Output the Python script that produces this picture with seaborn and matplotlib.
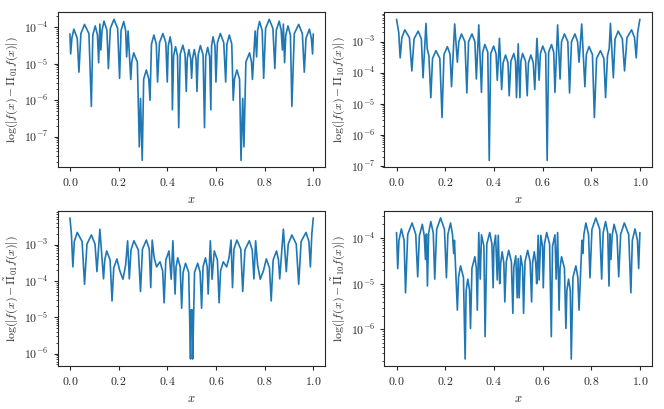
import numpy as np
import pandas as pd
import matplotlib
matplotlib.use("Agg")
import matplotlib.pyplot as plt
import seaborn as sns

# points (dips, arch shoulders, peaks): x and log10 of the error
pi01_x = [0.000, 0.003, 0.008, 0.016, 0.030, 0.037, 0.045, 0.060, 0.078, 0.088,
          0.094, 0.104, 0.113, 0.118, 0.123, 0.127, 0.132, 0.140, 0.152, 0.158,
          0.166, 0.181, 0.196, 0.204, 0.210, 0.221, 0.229, 0.233, 0.239, 0.250,
          0.254, 0.262, 0.277, 0.285, 0.290, 0.297, 0.303, 0.314, 0.324, 0.329,
          0.335, 0.345, 0.355, 0.360, 0.368, 0.382, 0.394, 0.400, 0.404, 0.412,
          0.418, 0.421, 0.426, 0.434, 0.442, 0.447, 0.453, 0.464, 0.473, 0.478,
          0.482, 0.489, 0.496, 0.500, 0.504, 0.511, 0.518, 0.522, 0.527, 0.536,
          0.547, 0.553, 0.558, 0.566, 0.574, 0.579, 0.582, 0.588, 0.596, 0.600,
          0.606, 0.618, 0.632, 0.640, 0.645, 0.655, 0.665, 0.671, 0.676, 0.686,
          0.697, 0.703, 0.710, 0.715, 0.723, 0.738, 0.746, 0.750, 0.761, 0.767,
          0.771, 0.779, 0.790, 0.796, 0.804, 0.819, 0.834, 0.842, 0.848, 0.860,
          0.868, 0.873, 0.877, 0.882, 0.887, 0.896, 0.906, 0.912, 0.922, 0.940,
          0.955, 0.963, 0.970, 0.984, 0.992, 0.997, 1.000]
pi01_log = [-4.18, -4.73, -4.30, -4.05, -4.30, -5.23, -4.17, -3.92, -4.17, -6.17,
            -4.21, -3.96, -4.21, -4.97, -3.91, -4.62, -4.08, -3.83, -4.08, -5.13,
            -4.03, -3.78, -4.03, -5.40, -4.09, -3.84, -4.09, -4.81, -4.10, -5.43,
            -4.95, -4.70, -4.95, -7.28, -5.95, -7.65, -5.42, -5.17, -5.42, -6.00,
            -4.46, -4.21, -4.46, -5.50, -4.42, -4.17, -4.42, -5.50, -4.51, -4.26,
            -4.51, -6.26, -4.78, -4.53, -4.78, -6.75, -4.74, -4.49, -4.74, -5.76,
            -4.86, -4.61, -4.86, -5.40, -4.86, -4.61, -4.86, -5.76, -4.75, -4.50,
            -4.75, -6.75, -4.80, -4.55, -4.80, -6.26, -4.51, -4.26, -4.51, -5.50,
            -4.42, -4.17, -4.42, -5.50, -4.46, -4.21, -4.46, -6.00, -5.42, -5.17,
            -5.42, -7.65, -5.95, -7.28, -4.95, -4.70, -4.95, -5.43, -4.10, -4.81,
            -4.09, -3.84, -4.09, -5.40, -4.03, -3.78, -4.03, -5.13, -4.08, -3.83,
            -4.08, -4.62, -3.91, -4.97, -4.21, -3.96, -4.21, -6.17, -4.17, -3.92,
            -4.17, -5.23, -4.30, -4.05, -4.30, -4.73, -4.18]

pi10_x = [0.000, 0.009, 0.015, 0.022, 0.034, 0.053, 0.063, 0.072, 0.089, 0.102,
          0.109, 0.121, 0.126, 0.133, 0.141, 0.148, 0.162, 0.178, 0.187, 0.195,
          0.209, 0.220, 0.226, 0.239, 0.250, 0.256, 0.267, 0.281, 0.289, 0.296,
          0.310, 0.322, 0.328, 0.338, 0.349, 0.354, 0.363, 0.375, 0.381, 0.387,
          0.399, 0.409, 0.414, 0.423, 0.432, 0.438, 0.448, 0.458, 0.463, 0.470,
          0.482, 0.489, 0.493, 0.500, 0.507, 0.511, 0.518, 0.530, 0.537, 0.542,
          0.552, 0.562, 0.568, 0.577, 0.586, 0.591, 0.601, 0.613, 0.619, 0.625,
          0.637, 0.646, 0.651, 0.662, 0.672, 0.678, 0.690, 0.704, 0.711, 0.719,
          0.733, 0.744, 0.750, 0.761, 0.774, 0.780, 0.791, 0.805, 0.813, 0.822,
          0.838, 0.852, 0.859, 0.867, 0.874, 0.879, 0.891, 0.898, 0.911, 0.928,
          0.937, 0.947, 0.966, 0.978, 0.985, 0.991, 1.000]
pi10_log = [-2.28, -2.70, -3.52, -2.87, -2.62, -2.87, -3.94, -2.91, -2.66, -2.91,
            -4.16, -2.41, -3.22, -3.45, -4.80, -3.54, -3.29, -3.54, -5.44, -3.41,
            -3.16, -3.41, -4.45, -2.43, -3.66, -3.00, -2.75, -3.00, -4.65, -3.00,
            -2.75, -3.00, -4.20, -2.46, -4.63, -3.34, -3.09, -3.34, -6.82, -3.39,
            -3.14, -3.39, -4.24, -2.89, -4.54, -3.68, -3.43, -3.68, -4.74, -3.63,
            -3.38, -3.63, -4.80, -3.07, -4.80, -3.63, -3.38, -3.63, -4.74, -3.68,
            -3.43, -3.68, -4.54, -2.89, -4.24, -3.39, -3.14, -3.39, -6.82, -3.34,
            -3.09, -3.34, -4.63, -2.46, -4.20, -3.00, -2.75, -3.00, -4.65, -3.00,
            -2.75, -3.00, -3.66, -2.43, -4.45, -3.41, -3.16, -3.41, -5.44, -3.54,
            -3.29, -3.54, -4.80, -3.45, -3.22, -2.41, -4.16, -2.91, -2.66, -2.91,
            -3.94, -2.87, -2.62, -2.87, -3.52, -2.70, -2.28]

tpi01_x = [0.000, 0.006, 0.012, 0.018, 0.030, 0.050, 0.060, 0.070, 0.088, 0.103,
           0.111, 0.123, 0.138, 0.143, 0.151, 0.165, 0.173, 0.180, 0.193, 0.205,
           0.218, 0.229, 0.237, 0.244, 0.251, 0.263, 0.281, 0.290, 0.298, 0.314,
           0.326, 0.332, 0.338, 0.346, 0.356, 0.370, 0.381, 0.387, 0.394, 0.407,
           0.416, 0.423, 0.432, 0.436, 0.443, 0.453, 0.459, 0.465, 0.475, 0.488,
           0.4955, 0.4975, 0.499, 0.500, 0.501, 0.5025, 0.5045, 0.512, 0.525, 0.535,
           0.541, 0.547, 0.557, 0.564, 0.568, 0.577, 0.584, 0.593, 0.606, 0.613,
           0.619, 0.630, 0.644, 0.654, 0.662, 0.668, 0.674, 0.686, 0.702, 0.710,
           0.719, 0.737, 0.749, 0.756, 0.763, 0.771, 0.782, 0.795, 0.807, 0.820,
           0.827, 0.835, 0.849, 0.857, 0.862, 0.877, 0.889, 0.897, 0.912, 0.930,
           0.940, 0.950, 0.970, 0.982, 0.988, 0.994, 1.000]
tpi01_log = [-2.26, -2.70, -3.61, -2.91, -2.66, -2.91, -4.09, -2.98, -2.73, -2.98,
             -3.74, -2.57, -3.94, -3.42, -3.17, -3.42, -4.55, -3.64, -3.39, -3.72,
             -3.95, -3.55, -2.89, -3.94, -3.14, -2.89, -3.14, -4.29, -3.12, -2.87,
             -3.12, -4.18, -2.87, -3.35, -3.61, -3.47, -3.72, -4.60, -3.42, -3.17,
             -3.95, -2.89, -4.36, -3.61, -3.36, -3.61, -4.75, -3.76, -3.51, -3.76,
             -6.15, -4.80, -5.10, -4.80, -5.10, -4.80, -6.15, -3.76, -3.51, -3.76,
             -4.75, -3.61, -3.36, -3.61, -4.36, -2.89, -3.95, -3.17, -3.42, -4.60,
             -3.72, -3.47, -3.61, -3.35, -2.87, -4.18, -3.12, -2.87, -3.12, -4.29,
             -3.14, -2.89, -3.14, -3.94, -2.89, -3.55, -3.95, -3.72, -3.39, -3.64,
             -4.55, -3.42, -3.17, -3.42, -3.94, -2.57, -3.74, -2.98, -2.73, -2.98,
             -4.09, -2.91, -2.66, -2.91, -3.61, -2.70, -2.26]

tpi10_x = [0.000, 0.005, 0.010, 0.020, 0.031, 0.037, 0.046, 0.064, 0.079, 0.087,
           0.094, 0.106, 0.114, 0.119, 0.123, 0.127, 0.132, 0.141, 0.151, 0.157,
           0.165, 0.181, 0.197, 0.205, 0.211, 0.222, 0.230, 0.235, 0.238, 0.250,
           0.255, 0.263, 0.275, 0.282, 0.286, 0.293, 0.300, 0.304, 0.310, 0.322,
           0.328, 0.332, 0.338, 0.344, 0.349, 0.359, 0.364, 0.371, 0.383, 0.392,
           0.397, 0.400, 0.407, 0.414, 0.418, 0.424, 0.428, 0.434, 0.441, 0.445,
           0.451, 0.461, 0.472, 0.478, 0.482, 0.490, 0.496, 0.500, 0.504, 0.510,
           0.518, 0.522, 0.528, 0.539, 0.549, 0.555, 0.559, 0.566, 0.572, 0.576,
           0.582, 0.586, 0.593, 0.600, 0.603, 0.608, 0.617, 0.629, 0.636, 0.641,
           0.651, 0.656, 0.662, 0.668, 0.672, 0.678, 0.690, 0.696, 0.700, 0.707,
           0.714, 0.718, 0.725, 0.737, 0.745, 0.750, 0.762, 0.765, 0.770, 0.778,
           0.789, 0.795, 0.803, 0.819, 0.835, 0.843, 0.849, 0.859, 0.868, 0.873,
           0.877, 0.881, 0.886, 0.894, 0.906, 0.913, 0.921, 0.936, 0.954, 0.963,
           0.969, 0.980, 0.990, 0.995, 1.000]
tpi10_log = [-3.88, -4.67, -4.05, -3.80, -4.05, -5.20, -3.92, -3.67, -3.92, -4.85,
             -3.95, -3.70, -3.95, -4.47, -3.91, -5.05, -3.89, -3.64, -3.89, -4.90,
             -3.81, -3.56, -3.81, -4.87, -3.92, -3.67, -3.92, -4.34, -4.05, -5.58,
             -4.86, -4.61, -4.86, -6.65, -5.15, -4.90, -5.15, -5.98, -4.66, -4.41,
             -4.66, -5.58, -3.88, -4.90, -3.93, -4.18, -6.16, -4.13, -3.88, -4.13,
             -5.09, -4.19, -3.94, -4.92, -3.94, -5.00, -4.55, -4.30, -4.55, -5.40,
             -4.52, -4.27, -4.52, -5.65, -4.64, -4.39, -5.31, -4.45, -5.31, -4.39,
             -4.64, -5.65, -4.52, -4.27, -4.52, -5.40, -4.55, -4.30, -4.55, -5.00,
             -3.94, -4.92, -3.94, -4.19, -5.09, -4.13, -3.88, -4.13, -6.16, -4.18,
             -3.93, -4.90, -3.88, -5.58, -4.66, -4.41, -4.66, -5.98, -5.15, -4.90,
             -5.15, -6.65, -4.86, -4.61, -4.86, -5.58, -4.05, -4.34, -3.92, -3.67,
             -3.92, -4.87, -3.81, -3.56, -3.81, -4.90, -3.89, -3.64, -3.89, -5.05,
             -3.91, -4.47, -3.95, -3.70, -3.95, -4.85, -3.92, -3.67, -3.92, -5.20,
             -4.05, -3.80, -4.05, -4.67, -3.88]

ylabels = [r"$\log(|f(x) - \Pi_{01} f(x)|)$",
           r"$\log(|f(x) - \Pi_{10} f(x)|)$",
           r"$\log(|f(x) - \tilde{\Pi}_{01} f(x)|)$",
           r"$\log(|f(x) - \tilde{\Pi}_{10} f(x)|)$"]

sns.set_style("ticks")
plt.rcParams["font.family"] = "serif"
plt.rcParams["font.serif"] = ["cmr10"]
plt.rcParams["mathtext.fontset"] = "cm"
plt.rcParams["axes.formatter.use_mathtext"] = True
plt.rcParams["font.size"] = 8.5
plt.rcParams["xtick.major.size"] = 3
plt.rcParams["ytick.major.size"] = 3
plt.rcParams["ytick.minor.size"] = 1.8

fig, axes = plt.subplots(2, 2, figsize=(6.64, 4.09), dpi=100)
fig.subplots_adjust(left=0.087, right=0.982, bottom=0.105, top=0.97,
                    wspace=0.22, hspace=0.28)

panels = [(pi01_x, pi01_log), (pi10_x, pi10_log),
          (tpi01_x, tpi01_log), (tpi10_x, tpi10_log)]

for ax, (xs, logs), lab in zip(axes.flat, panels, ylabels):
    assert len(xs) == len(logs)
    df = pd.DataFrame({"x": xs, "err": 10.0 ** np.array(logs)})
    sns.lineplot(data=df, x="x", y="err", ax=ax, color="#1f77b4",
                 linewidth=1.2, estimator=None, sort=False)
    ax.set_yscale("log")
    ax.set_xticks([0.0, 0.2, 0.4, 0.6, 0.8, 1.0])
    ax.set_xlabel(r"$x$", fontsize=9)
    ax.set_ylabel(lab, fontsize=8.5, labelpad=3)
    for s in ax.spines.values():
        s.set_linewidth(0.8)

fig.savefig("out.png", dpi=100)
